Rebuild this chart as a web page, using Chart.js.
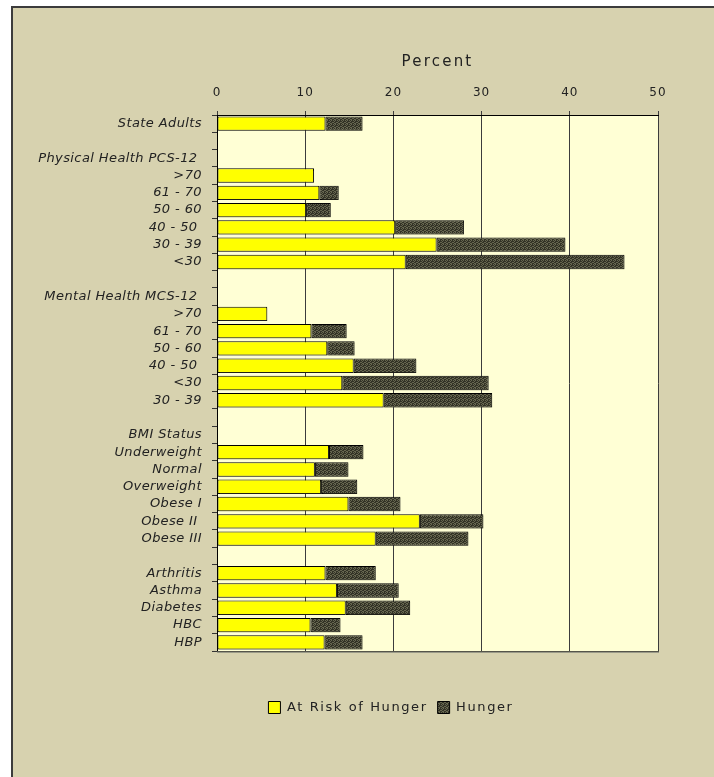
<!DOCTYPE html>
<html>
<head>
<meta charset="utf-8">
<script src="https://cdn.jsdelivr.net/npm/chart.js@4/dist/chart.umd.min.js"></script>
<style>
  html, body { margin: 0; padding: 0; background: #ffffff; overflow: hidden; width: 714px; height: 777px; position: relative; }
  #frame {
    position: absolute; left: 11px; top: 6px;
    width: 701px; height: 769px;
    overflow: hidden;
    background: #D7D2AF;
    border-left: 2px solid #3c3c3c;
    border-top: 2px solid #3c3c3c;
  }
  #chart { position: absolute; left: 0; top: 0; }
</style>
</head>
<body>
<div id="frame"><canvas id="chart" width="756" height="769"></canvas></div>
<script>
// Row labels (blank rows separate the groups)
const categories = [
  'State Adults', '',
  'Physical Health PCS-12 ', '>70', '61 - 70', '50 - 60', '40 - 50 ', '30 - 39', '<30', '',
  'Mental Health MCS-12 ', '>70', '61 - 70', '50 - 60', '40 - 50 ', '<30', '30 - 39', '',
  'BMI Status', 'Underweight', 'Normal', 'Overweight', 'Obese I', 'Obese II ', 'Obese III', '',
  'Arthritis', 'Asthma', 'Diabetes', 'HBC', 'HBP'
];

// Percent at risk of hunger
const atRisk = [
  12.3, null,
  null, 11.0, 11.6, 10.1, 20.2, 24.9, 21.4, null,
  null, 5.7, 10.7, 12.5, 15.5, 14.2, 18.9, null,
  null, 12.7, 11.1, 11.8, 14.9, 23.0, 18.0, null,
  12.3, 13.6, 14.6, 10.6, 12.2
];

// Percent with hunger (stacked after the at-risk share)
const hunger = [
  4.2, null,
  null, null, 2.2, 2.8, 7.8, 14.6, 24.8, null,
  null, null, 4.0, 3.1, 7.1, 16.6, 12.3, null,
  null, 3.9, 3.8, 4.1, 5.9, 7.2, 10.5, null,
  5.7, 7.0, 7.3, 3.4, 4.3
];

const seriesNames = ['At Risk of Hunger', 'Hunger'];
const axisTitle = 'Percent';
const FONT = '"DejaVu Sans", Verdana, sans-serif';

// Dark hatched fill for the hunger segments
function makeHatch() {
  const c = document.createElement('canvas');
  c.width = 4; c.height = 4;
  const g = c.getContext('2d');
  g.fillStyle = '#323226';
  g.fillRect(0, 0, 4, 4);
  g.fillStyle = '#66664f';
  [[0,0],[2,0],[1,1],[0,2],[3,2],[1,3],[2,3]].forEach(([x,y]) => g.fillRect(x, y, 1, 1));
  return g.createPattern(c, 'repeat');
}
const hatch = makeHatch();

// Text letter spacing per element
function withSpacing(obj, name, sp) {
  if (!obj || obj['_sp_' + name]) return;
  const orig = obj[name];
  obj[name] = function (...args) {
    const c = this.ctx;
    const prev = c.letterSpacing;
    c.letterSpacing = sp;
    try { return orig.apply(this, args); } finally { c.letterSpacing = prev; }
  };
  obj['_sp_' + name] = true;
}

const spacingPlugin = {
  id: 'spacing',
  beforeLayout(chart) { chart.ctx.letterSpacing = '1.6px'; },
  afterLayout(chart) { chart.ctx.letterSpacing = '0px'; },
  beforeDraw(chart) {
    withSpacing(chart.legend, 'draw', '1.6px');
    withSpacing(chart.scales.x, 'drawLabels', '1px');
    withSpacing(chart.scales.x, 'drawTitle', '2.2px');
    withSpacing(chart.scales.y, 'drawLabels', '0.4px');
  }
};

// Plot background and lower frame line
const plotArea = {
  id: 'plotArea',
  beforeDraw(chart) {
    const { ctx, chartArea: a } = chart;
    ctx.save();
    ctx.fillStyle = '#FFFFD5';
    ctx.fillRect(a.left, a.top, a.right - a.left, a.bottom - a.top);
    ctx.restore();
  },
  afterDraw(chart) {
    const { ctx, chartArea: a } = chart;
    ctx.save();
    ctx.fillStyle = '#55554a';
    ctx.fillRect(a.left, Math.round(a.bottom), a.right - a.left + 1, 1);
    ctx.fillStyle = '#9a9a88';
    ctx.fillRect(a.left, Math.round(a.bottom) + 1, a.right - a.left + 1, 1);
    ctx.restore();
  },
  beforeDatasetsDraw(chart) {
    const ctx = chart.ctx;
    ctx.save();
    ctx.shadowColor = 'rgba(90, 90, 70, 0.35)';
    ctx.shadowOffsetX = 1.5;
    ctx.shadowOffsetY = 1.5;
    ctx.shadowBlur = 0;
  },
  afterDatasetsDraw(chart) {
    chart.ctx.restore();
  }
};

new Chart(document.getElementById('chart'), {
  type: 'bar',
  data: {
    labels: categories,
    datasets: [
      {
        label: seriesNames[0], data: atRisk, xAxisID: 'x', yAxisID: 'y',
        backgroundColor: '#FFFF00', borderColor: '#000000', borderWidth: 1, borderSkipped: false,
        barPercentage: 0.83, categoryPercentage: 1
      },
      {
        label: seriesNames[1], data: hunger, xAxisID: 'x', yAxisID: 'y',
        backgroundColor: hatch, borderColor: '#000000', borderWidth: 1, borderSkipped: false,
        barPercentage: 0.83, categoryPercentage: 1
      }
    ]
  },
  options: {
    indexAxis: 'y',
    responsive: false,
    animation: false,
    devicePixelRatio: 1,
    layout: { padding: { left: 0, right: 0, top: 0, bottom: 53 } },
    scales: {
      x: {
        position: 'top', stacked: true, min: 0, max: 50,
        ticks: { stepSize: 10, color: '#222', font: { family: FONT, size: 12 }, padding: 11 },
        grid: { color: '#3c3c3c', lineWidth: 1, tickLength: 4, drawOnChartArea: true },
        border: { color: '#000000', width: 1 },
        title: { display: true, text: axisTitle, color: '#222', font: { family: FONT, size: 15 }, padding: { top: 45, bottom: 0 } },
        afterFit(s) { s.height = 107; }
      },
      y: {
        stacked: true,
        ticks: { autoSkip: false, color: '#222', font: { family: FONT, size: 13, style: 'italic' }, padding: 10 },
        grid: { drawOnChartArea: false, tickLength: 5, color: '#333333', offset: true },
        border: { color: '#000000', width: 1 },
        afterFit(s) { s.width = 204; }
      },
      gapBottom: {
        type: 'linear', position: 'bottom', min: 0, max: 1, display: true,
        grid: { display: false }, ticks: { display: false }, border: { display: false },
        afterFit(s) { s.height = 40; }
      },
      gapRight: {
        type: 'linear', position: 'right', min: 0, max: 1, display: true,
        grid: { display: false }, ticks: { display: false }, border: { display: false },
        afterFit(s) { s.width = 111; }
      }
    },
    plugins: {
      legend: {
        position: 'bottom',
        labels: { color: '#222', font: { family: FONT, size: 13 }, boxWidth: 12, boxHeight: 12, padding: 10 }
      },
      tooltip: { enabled: false }
    }
  },
  plugins: [spacingPlugin, plotArea]
});
</script>
</body>
</html>
